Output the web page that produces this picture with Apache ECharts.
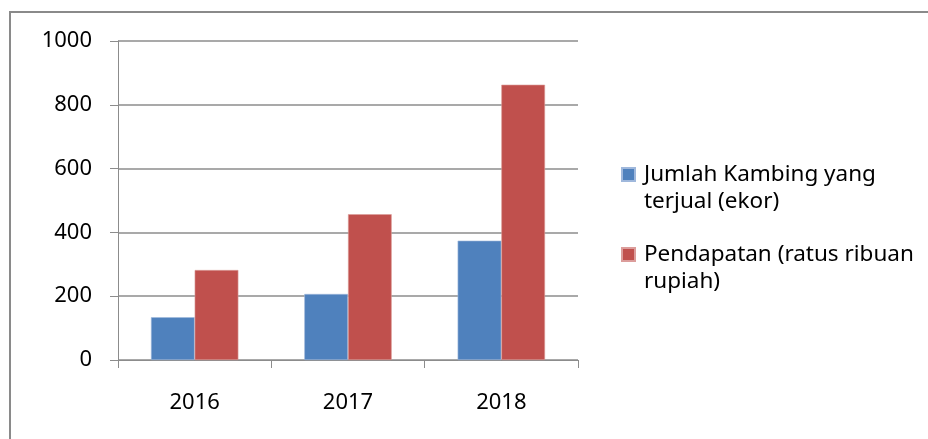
<!DOCTYPE html>
<html>
<head>
<meta charset="utf-8">
<script src="https://cdn.jsdelivr.net/npm/echarts@6/dist/echarts.min.js"></script>
<style>html,body{margin:0;padding:0;background:#fff;}#c{width:928px;height:439px;}</style>
</head>
<body>
<div id="c"></div>
<script>
var categories = ['2016', '2017', '2018'];
var seriesNames = ['Jumlah Kambing yang\nterjual (ekor)', 'Pendapatan (ratus ribuan\nrupiah)'];
var kambing = [134, 207, 374];
var pendapatan = [282, 457, 863];
var yTicks = [0, 200, 400, 600, 800, 1000];

var chart = echarts.init(document.getElementById('c'));
var font = 'Noto Sans';
chart.setOption({
  animation: false,
  backgroundColor: '#ffffff',
  graphic: [{
    type: 'rect', silent: true,
    shape: { x: 10, y: 12, width: 2000, height: 2000 },
    style: { fill: 'none', stroke: '#8a8a8a', lineWidth: 2 }
  }],
  grid: { left: 118, right: 350, top: 41, bottom: 79, containLabel: false },
  legend: {
    orient: 'vertical',
    left: 621,
    top: 134,
    padding: 0,
    itemGap: -1,
    itemWidth: 13,
    itemHeight: 13,
    icon: 'rect',
    data: seriesNames,
    formatter: function (n) { return '\n' + n; },
    textStyle: { fontFamily: font, fontSize: 22.5, color: '#000', lineHeight: 27, padding: [0, 0, 0, 4] }
  },
  xAxis: {
    type: 'category',
    data: categories,
    axisLine: { lineStyle: { color: '#8c8c8c', width: 1 } },
    axisTick: { show: true, length: 8, interval: 0, lineStyle: { color: '#8c8c8c' } },
    axisLabel: { fontFamily: font, fontSize: 22, color: '#000', margin: 32 },
    splitLine: { show: false }
  },
  yAxis: {
    type: 'value',
    min: yTicks[0],
    max: yTicks[yTicks.length - 1],
    interval: yTicks[1] - yTicks[0],
    axisLine: { show: true, lineStyle: { color: '#8c8c8c', width: 1 } },
    axisTick: { show: true, length: 8, lineStyle: { color: '#8c8c8c' } },
    axisLabel: { fontFamily: font, fontSize: 22, color: '#000', margin: 26,
      formatter: function (v) { return String(v); } },
    splitLine: { show: true, lineStyle: { color: '#8c8c8c', width: 1.5 } }
  },
  series: [
    { name: seriesNames[0], type: 'bar', data: kambing, barGap: '0%', barCategoryGap: '43%',
      itemStyle: { color: '#4f81bd', borderColor: '#9fb8dc', borderWidth: 0.6 } },
    { name: seriesNames[1], type: 'bar', data: pendapatan, barGap: '0%', barCategoryGap: '43%',
      itemStyle: { color: '#c0504d', borderColor: '#dc9d9b', borderWidth: 0.6 } }
  ]
});
</script>
</body>
</html>
